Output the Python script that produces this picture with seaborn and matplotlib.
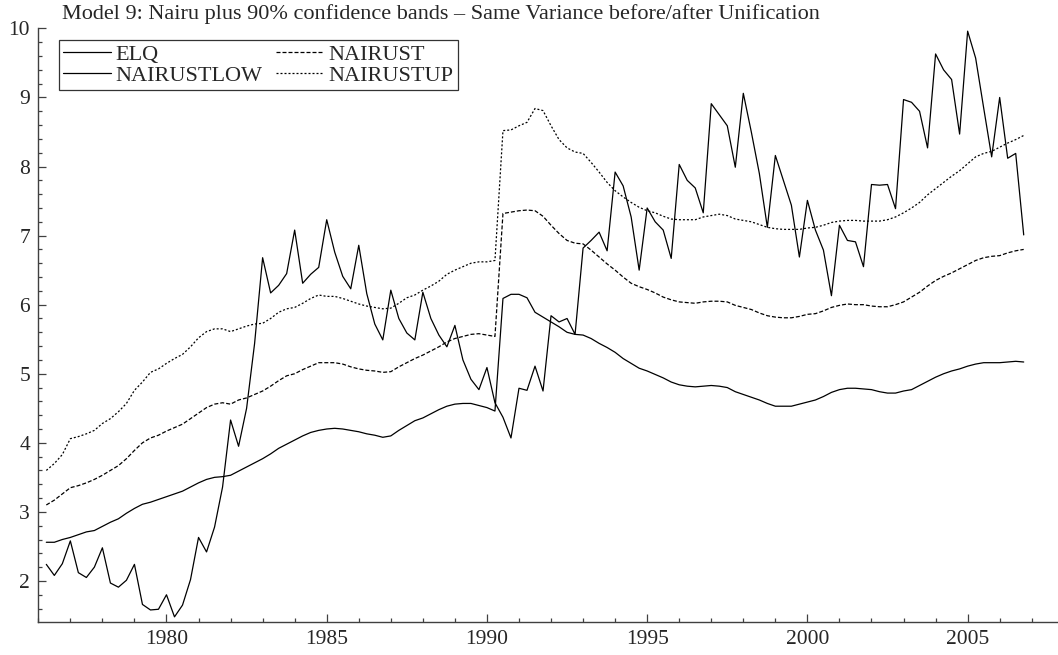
import numpy as np
import pandas as pd
import matplotlib
matplotlib.use("Agg")
import matplotlib.pyplot as plt
import seaborn as sns
from matplotlib.ticker import MultipleLocator

# quarterly sample 1976Q2 - 2006Q4
quarters = pd.period_range("1976Q2", "2006Q4", freq="Q")

elq = [
    2.24, 2.08, 2.25,
    2.58, 2.12, 2.05, 2.20,
    2.48, 1.97, 1.91, 2.01,
    2.24, 1.66, 1.58, 1.59,
    1.80, 1.48, 1.65, 2.02,
    2.63, 2.42, 2.78, 3.36,
    4.33, 3.95, 4.50, 5.44,
    6.68, 6.17, 6.28, 6.45,
    7.08, 6.31, 6.44, 6.54,
    7.23, 6.76, 6.41, 6.23,
    6.86, 6.16, 5.72, 5.49,
    6.21, 5.80, 5.59, 5.49,
    6.18, 5.80, 5.56, 5.39,
    5.70, 5.20, 4.92, 4.77,
    5.09, 4.58, 4.37, 4.07,
    4.79, 4.76, 5.11, 4.75,
    5.84, 5.75, 5.80, 5.57,
    6.82, 6.93, 7.05, 6.78,
    7.92, 7.72, 7.27, 6.50,
    7.40, 7.20, 7.08, 6.67,
    8.03, 7.80, 7.69, 7.33,
    8.91, 8.75, 8.59, 7.99,
    9.06, 8.50, 7.90, 7.12,
    8.16, 7.80, 7.44, 6.69,
    7.51, 7.08, 6.79, 6.13,
    7.15, 6.93, 6.91, 6.55,
    7.74, 7.73, 7.74, 7.39,
    8.97, 8.93, 8.80, 8.27,
    9.63, 9.40, 9.26, 8.47,
    9.96, 9.57, 8.85, 8.14,
    9.00, 8.12, 8.19, 7.01,
]

nairust = [
    3.10, 3.17, 3.26,
    3.35, 3.38, 3.42, 3.47,
    3.53, 3.60, 3.67, 3.77,
    3.89, 4.00, 4.07, 4.11,
    4.17, 4.22, 4.27, 4.35,
    4.43, 4.51, 4.56, 4.58,
    4.56, 4.62, 4.65, 4.70,
    4.75, 4.82, 4.90, 4.97,
    5.00, 5.06, 5.11, 5.16,
    5.16, 5.16, 5.14, 5.10,
    5.07, 5.05, 5.04, 5.02,
    5.03, 5.10, 5.16, 5.22,
    5.27, 5.33, 5.39, 5.46,
    5.51, 5.54, 5.57, 5.58,
    5.56, 5.54, 7.32, 7.34,
    7.36, 7.37, 7.36, 7.28,
    7.15, 7.03, 6.93, 6.89,
    6.88, 6.79, 6.69, 6.59,
    6.50, 6.40, 6.31, 6.26,
    6.22, 6.17, 6.11, 6.07,
    6.04, 6.03, 6.02, 6.04,
    6.05, 6.05, 6.04, 5.99,
    5.96, 5.93, 5.88, 5.84,
    5.82, 5.81, 5.81, 5.83,
    5.86, 5.87, 5.91, 5.96,
    5.99, 6.01, 6.00, 6.00,
    5.98, 5.97, 5.97, 6.00,
    6.04, 6.11, 6.18, 6.27,
    6.35, 6.41, 6.46, 6.52,
    6.58, 6.64, 6.68, 6.70,
    6.71, 6.75, 6.78, 6.80,
]

nairustlow = [
    2.56, 2.56, 2.60,
    2.63, 2.67, 2.71, 2.73,
    2.79, 2.85, 2.90, 2.98,
    3.05, 3.11, 3.14, 3.18,
    3.22, 3.26, 3.30, 3.36,
    3.42, 3.47, 3.50, 3.51,
    3.53, 3.59, 3.65, 3.71,
    3.77, 3.84, 3.92, 3.98,
    4.04, 4.10, 4.15, 4.18,
    4.20, 4.21, 4.20, 4.18,
    4.16, 4.13, 4.11, 4.08,
    4.10, 4.18, 4.25, 4.32,
    4.36, 4.42, 4.48, 4.53,
    4.56, 4.57, 4.57, 4.54,
    4.51, 4.46, 6.09, 6.15,
    6.15, 6.10, 5.89, 5.82,
    5.75, 5.68, 5.60, 5.57,
    5.56, 5.51, 5.44, 5.38,
    5.31, 5.22, 5.15, 5.08,
    5.04, 4.99, 4.94, 4.88,
    4.84, 4.82, 4.81, 4.82,
    4.83, 4.82, 4.80, 4.74,
    4.70, 4.66, 4.62, 4.57,
    4.53, 4.53, 4.53, 4.56,
    4.59, 4.62, 4.67, 4.73,
    4.77, 4.79, 4.79, 4.78,
    4.77, 4.74, 4.72, 4.72,
    4.75, 4.77, 4.83, 4.89,
    4.95, 5.00, 5.04, 5.07,
    5.11, 5.14, 5.16, 5.16,
    5.16, 5.17, 5.18, 5.17,
]

nairustup = [
    3.60, 3.70, 3.83,
    4.06, 4.09, 4.13, 4.18,
    4.28, 4.35, 4.45, 4.57,
    4.76, 4.88, 5.02, 5.07,
    5.15, 5.22, 5.28, 5.39,
    5.52, 5.61, 5.65, 5.65,
    5.61, 5.65, 5.69, 5.72,
    5.73, 5.80, 5.89, 5.94,
    5.96, 6.02, 6.09, 6.14,
    6.12, 6.12, 6.09, 6.05,
    6.01, 5.98, 5.96, 5.94,
    5.95, 6.02, 6.10, 6.14,
    6.21, 6.27, 6.34, 6.44,
    6.50, 6.55, 6.60, 6.62,
    6.62, 6.64, 8.52, 8.53,
    8.59, 8.64, 8.84, 8.81,
    8.59, 8.39, 8.27, 8.21,
    8.19, 8.06, 7.92, 7.77,
    7.65, 7.56, 7.48, 7.41,
    7.36, 7.33, 7.28, 7.24,
    7.23, 7.23, 7.23, 7.27,
    7.29, 7.31, 7.29, 7.24,
    7.22, 7.20, 7.16, 7.12,
    7.10, 7.09, 7.09, 7.09,
    7.11, 7.12, 7.15, 7.19,
    7.21, 7.22, 7.22, 7.21,
    7.21, 7.21, 7.23, 7.27,
    7.33, 7.40, 7.48, 7.59,
    7.68, 7.77, 7.86, 7.94,
    8.04, 8.14, 8.19, 8.22,
    8.28, 8.34, 8.39, 8.45,
]

title = "Model 9: Nairu plus 90% confidence bands \u2013 Same Variance before/after Unification"

df = pd.DataFrame({
    "year": quarters.year + (quarters.quarter - 1) / 4.0,
    "ELQ": elq,
    "NAIRUST": nairust,
    "NAIRUSTLOW": nairustlow,
    "NAIRUSTUP": nairustup,
})

sns.set_style("ticks")
plt.rcParams["font.family"] = ["Liberation Serif", "DejaVu Serif"]

fig = plt.figure(figsize=(10.58, 6.55), dpi=100)
ax = fig.add_axes([38.3 / 1058, 1 - 621.7 / 655, 1 - 38.3 / 1058, (621.7 - 28.4) / 655])

lw = 0.9
sns.lineplot(data=df, x="year", y="ELQ", ax=ax, color="black", lw=lw, label="ELQ")
sns.lineplot(data=df, x="year", y="NAIRUST", ax=ax, color="black", lw=lw,
             dashes=(3.2, 1.6), label="NAIRUST")
sns.lineplot(data=df, x="year", y="NAIRUSTLOW", ax=ax, color="black", lw=lw,
             label="NAIRUSTLOW")
sns.lineplot(data=df, x="year", y="NAIRUSTUP", ax=ax, color="black", lw=lw,
             dashes=(1.6, 1.6), label="NAIRUSTUP")

ax.set_xlim(1976.0, 2007.82)
ax.set_ylim(1.41, 10)
ax.xaxis.set_major_locator(MultipleLocator(5))
ax.xaxis.set_minor_locator(MultipleLocator(1))
ax.yaxis.set_major_locator(MultipleLocator(1))
ax.yaxis.set_minor_locator(MultipleLocator(0.2))
ax.set_xticks([1980, 1985, 1990, 1995, 2000, 2005])
ax.set_xlabel("")
ax.set_ylabel("")

for s in ["top", "right"]:
    ax.spines[s].set_visible(False)
for s in ["left", "bottom"]:
    ax.spines[s].set_color("#404040")
    ax.spines[s].set_linewidth(1.0)

ax.tick_params(which="major", direction="in", length=6, width=0.9, color="#404040",
               labelsize=15.5, pad=6)
ax.tick_params(which="minor", direction="in", length=3, width=0.9, color="#404040")

handles, labels = ax.get_legend_handles_labels()
order = [labels.index(n) for n in ["ELQ", "NAIRUSTLOW", "NAIRUST", "NAIRUSTUP"]]
leg = ax.legend([handles[i] for i in order], [labels[i] for i in order],
                ncol=2, loc="upper left", bbox_to_anchor=(0.0203, 0.9804),
                borderaxespad=0, fontsize=16, frameon=True, fancybox=False,
                handlelength=2.15, handletextpad=0.2, columnspacing=0.6,
                labelspacing=0.0, borderpad=0.2)
leg.get_frame().set_edgecolor("black")
leg.get_frame().set_linewidth(0.9)

fig.text(62 / 1058, 1 - 19 / 655, title, fontsize=16, va="baseline", ha="left")

plt.savefig("out.png", dpi=100)
plt.close()
